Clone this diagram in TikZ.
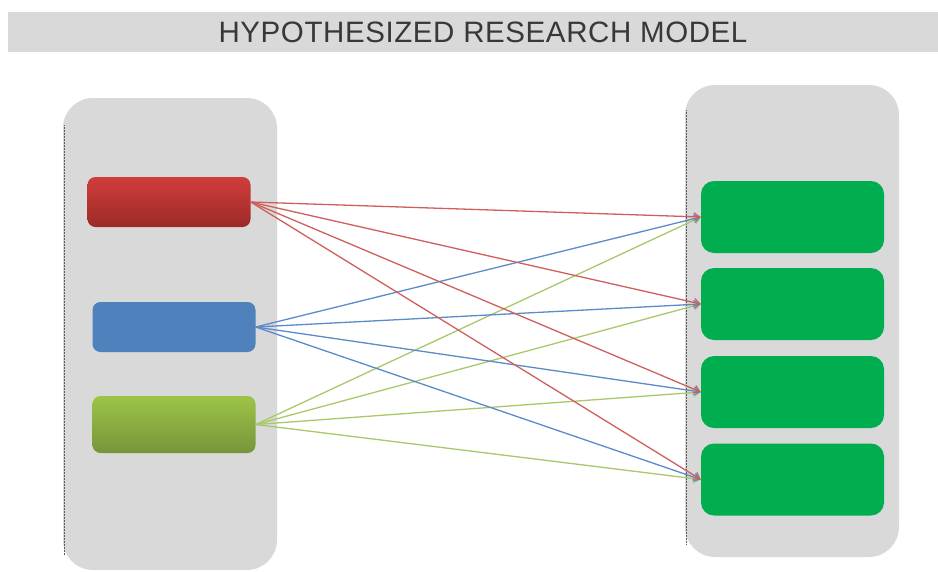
\documentclass[tikz,border=0pt]{standalone}
\usepackage{fontspec}
\setmainfont{Liberation Sans}
\newfontfamily\titlefont[LetterSpace=2]{Liberation Sans}
\usetikzlibrary{arrows.meta}
\definecolor{panel}{HTML}{D9D9D9}
\definecolor{redtop}{HTML}{D03D3A}
\definecolor{redbot}{HTML}{9C2A27}
\definecolor{bluebox}{HTML}{4F81BD}
\definecolor{greentop}{HTML}{9DC447}
\definecolor{greenbot}{HTML}{76953A}
\definecolor{tgtgreen}{HTML}{00AE50}
\definecolor{redline}{HTML}{CF5F5C}
\definecolor{blueline}{HTML}{5B8BC9}
\definecolor{greenline}{HTML}{A8C86A}
\begin{document}
\begin{tikzpicture}[x=1pt,y=-1pt,
  container/.style={fill=panel, draw=none, rounded corners=30pt, inner sep=0pt},
  srcbox/.style={draw=none, rounded corners=8pt, inner sep=0pt, minimum width=163pt},
  tgtbox/.style={fill=tgtgreen, draw=none, rounded corners=13pt, inner sep=0pt, minimum width=183pt, minimum height=72pt},
  link/.style={line width=1.3pt, -{Straight Barb[length=6pt,width=8pt,line width=1.2pt]}},
  edgeline/.style={draw=gray!70!black, densely dotted, line width=0.5pt}
]
\useasboundingbox (0,0) rectangle (938,571);
% title bar
\fill[panel] (8,12) rectangle (938,52);
\node[font=\titlefont\fontsize{29.5}{31}\selectfont, text=black!78, inner sep=0pt, anchor=base] (title) at (483,42) {HYPOTHESIZED RESEARCH MODEL};
% containers
\node[container, minimum width=214pt, minimum height=472pt] (left) at (170,334) {};
\node[container, minimum width=214pt, minimum height=472pt] (right) at (792,321) {};
\draw[edgeline] (64,125) -- (64,555);
\draw[edgeline] (686,110) -- (686,545);
% sources
\node[srcbox, top color=redtop, bottom color=redbot, minimum height=50pt] (r) at (169,202) {};
\node[srcbox, fill=bluebox, minimum height=50pt] (b) at (174,327) {};
\node[srcbox, top color=greentop, bottom color=greenbot, minimum height=57pt] (g) at (174,424.5) {};
% targets
\node[tgtbox] (t1) at (792.5,217) {};
\node[tgtbox] (t2) at (792.5,304) {};
\node[tgtbox] (t3) at (792.5,392) {};
\node[tgtbox] (t4) at (792.5,479.5) {};
% links
\foreach \t in {t1,t2,t3,t4} {
  \draw[link, greenline] (g.east) -- (\t.west);
}
\foreach \t in {t1,t2,t3,t4} {
  \draw[link, blueline] (b.east) -- (\t.west);
}
\foreach \t in {t1,t2,t3,t4} {
  \draw[link, redline] (r.east) -- (\t.west);
}
\end{tikzpicture}
\end{document}
